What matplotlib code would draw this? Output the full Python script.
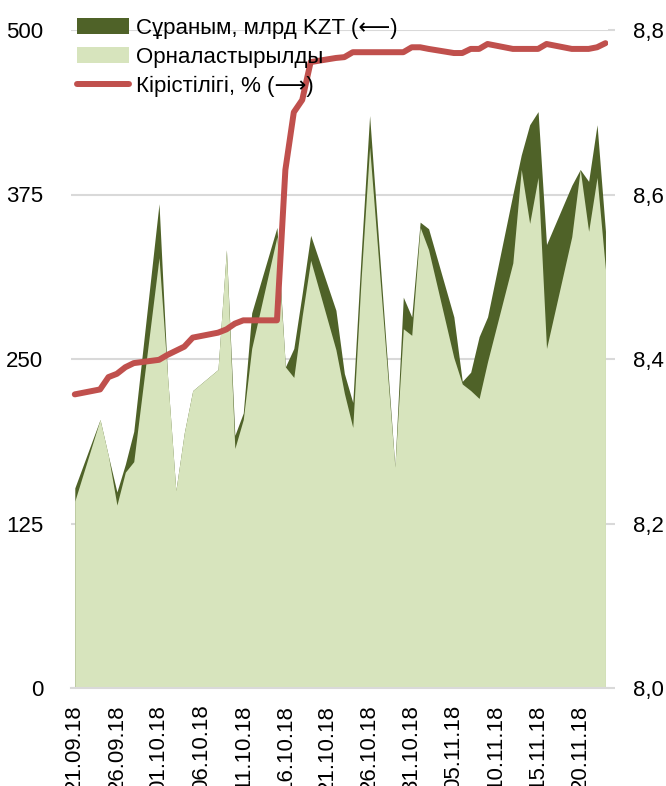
import datetime as dt

import matplotlib

matplotlib.use("Agg")
import matplotlib.pyplot as mp
import numpy as np

# trading days
dates = [
    "21.09.18", "24.09.18", "25.09.18", "26.09.18", "27.09.18", "28.09.18",
    "01.10.18", "02.10.18", "03.10.18", "04.10.18", "05.10.18",
    "08.10.18", "09.10.18", "10.10.18", "11.10.18", "12.10.18",
    "15.10.18", "16.10.18", "17.10.18", "18.10.18", "19.10.18",
    "22.10.18", "23.10.18", "24.10.18", "25.10.18", "26.10.18",
    "29.10.18", "30.10.18", "31.10.18", "01.11.18", "02.11.18",
    "05.11.18", "06.11.18", "07.11.18", "08.11.18", "09.11.18",
    "12.11.18", "13.11.18", "14.11.18", "15.11.18", "16.11.18",
    "19.11.18", "20.11.18", "21.11.18", "22.11.18", "23.11.18",
]

demand = [
    152, 204, 176, 149, 170, 195,
    368, 238, 150, 194, 226,
    242, 333, 192, 209, 285,
    350, 244, 258, 300, 344,
    287, 239, 217, 330, 435,
    168, 297, 282, 354, 349,
    282, 233, 240, 267, 282,
    375, 405, 428, 438, 337,
    382, 394, 385, 428, 347,
]

placed = [
    142, 204, 176, 139, 164, 172,
    327, 238, 150, 194, 226,
    242, 333, 182, 204, 258,
    343, 244, 236, 283, 325,
    257, 224, 198, 312, 411,
    168, 273, 268, 350, 333,
    251, 231, 226, 220, 248,
    323, 394, 353, 388, 258,
    343, 394, 347, 388, 318,
]

yield_pct = [
    8.357, 8.363, 8.378, 8.382, 8.390, 8.395,
    8.399, 8.405, 8.410, 8.415, 8.426,
    8.432, 8.436, 8.443, 8.447, 8.447,
    8.447, 8.630, 8.700, 8.715, 8.761,
    8.766, 8.767, 8.773, 8.773, 8.773,
    8.773, 8.773, 8.779, 8.779, 8.777,
    8.772, 8.772, 8.777, 8.777, 8.783,
    8.777, 8.777, 8.777, 8.777, 8.783,
    8.777, 8.777, 8.777, 8.779, 8.784,
]

tick_labels = [
    "21.09.18", "26.09.18", "01.10.18", "06.10.18", "11.10.18", "16.10.18",
    "21.10.18", "26.10.18", "31.10.18", "05.11.18", "10.11.18", "15.11.18",
    "20.11.18",
]

labels = ["Сұраным, млрд KZT (⟵)", "Орналастырылды", "Кірістілігі, % (⟶)"]

DARK = "#4f6228"
LIGHT = "#d7e4bd"
RED = "#c0504d"
GRID = "#d9d9d9"

mp.rcParams["font.family"] = ["Liberation Sans", "DejaVu Sans"]
FS = 16


def to_day(s: str) -> float:
    d = dt.datetime.strptime(s, "%d.%m.%y")
    return (d - dt.datetime(2018, 9, 21)).days


x = np.array([to_day(s) for s in dates], dtype=float)
xt = np.array([to_day(s) for s in tick_labels], dtype=float)

fig = mp.figure(figsize=(6.66, 7.86), dpi=100)
ax = fig.add_axes([71 / 666, 1 - 688 / 786, (608 - 71) / 666, (688 - 30) / 786])

ax.fill_between(x, 0, demand, color=DARK, lw=0, label=labels[0])
ax.fill_between(x, 0, placed, color=LIGHT, lw=0, label=labels[1])

ax.set_xlim(-0.45, 63.3)
ax.set_ylim(0, 500)
ax.set_yticks([0, 125, 250, 375, 500])
ax.set_yticklabels(["0", "125", "250", "375", "500"])
ax.yaxis.grid(True, color=GRID, lw=1.5)
ax.set_axisbelow(True)
for s in ("top", "left", "right"):
    ax.spines[s].set_visible(False)
ax.spines["bottom"].set_color(GRID)
ax.spines["bottom"].set_linewidth(1.5)
ax.tick_params(axis="y", length=0, pad=20, labelsize=FS)
ax.set_xticks(xt)
ax.set_xticklabels(tick_labels, rotation=90, va="top", ha="center")
ax.tick_params(axis="x", length=0, pad=12, labelsize=FS)

ax2 = ax.twinx()
ax2.plot(x, yield_pct, color=RED, lw=4.3, solid_capstyle="round",
         solid_joinstyle="round", label=labels[2])
ax2.set_ylim(8.0, 8.8)
ax2.set_yticks([8.0, 8.2, 8.4, 8.6, 8.8])
ax2.set_yticklabels(["8,0", "8,2", "8,4", "8,6", "8,8"])
for s in ("top", "left", "right", "bottom"):
    ax2.spines[s].set_visible(False)
ax2.tick_params(axis="y", length=5, width=1.5, color=GRID, pad=13, labelsize=FS)

h1, l1 = ax.get_legend_handles_labels()
h2, l2 = ax2.get_legend_handles_labels()
ax2.legend(
    h1 + h2, l1 + l2,
    loc="upper left",
    bbox_to_anchor=(77 / 666, 1 - 18 / 786),
    bbox_transform=fig.transFigure,
    frameon=False,
    fontsize=FS,
    handlelength=2.35,
    handleheight=0.75,
    handletextpad=0.3,
    labelspacing=0.35,
    borderaxespad=0.0,
    borderpad=0.0,
)

fig.savefig("out.png", dpi=100)
